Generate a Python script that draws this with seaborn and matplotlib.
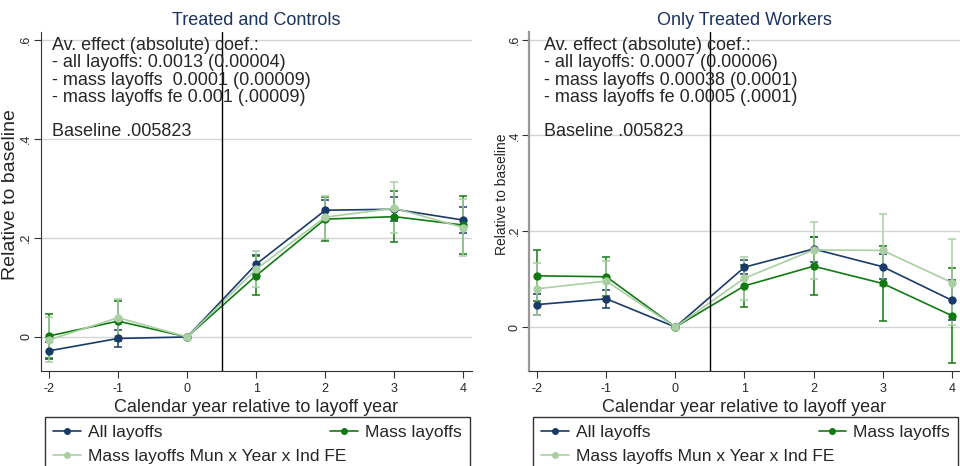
import numpy as np
import pandas as pd
import matplotlib
matplotlib.use("Agg")
import matplotlib.pyplot as plt
import seaborn as sns

# event time
years = [-2, -1, 0, 1, 2, 3, 4]
series_names = ["All layoffs", "Mass layoffs", "Mass layoffs Mun x Year x Ind FE"]

# Treated and Controls: point estimates and CI bounds
tc_all = [-0.028, -0.003, 0.0, 0.147, 0.256, 0.258, 0.236]
tc_all_lo = [-0.045, -0.020, 0.0, 0.128, 0.235, 0.234, 0.209]
tc_all_hi = [-0.011, 0.014, 0.0, 0.166, 0.277, 0.282, 0.263]
tc_mass = [0.002, 0.032, 0.0, 0.124, 0.238, 0.243, 0.226]
tc_mass_lo = [-0.042, -0.009, 0.0, 0.085, 0.194, 0.192, 0.167]
tc_mass_hi = [0.046, 0.073, 0.0, 0.163, 0.282, 0.294, 0.285]
tc_fe = [-0.006, 0.039, 0.0, 0.137, 0.242, 0.260, 0.221]
tc_fe_lo = [-0.051, 0.001, 0.0, 0.100, 0.197, 0.209, 0.163]
tc_fe_hi = [0.040, 0.077, 0.0, 0.174, 0.285, 0.312, 0.279]

# Only Treated Workers
ot_all = [0.047, 0.059, 0.0, 0.125, 0.163, 0.126, 0.056]
ot_all_lo = [0.025, 0.040, 0.0, 0.110, 0.135, 0.100, 0.014]
ot_all_hi = [0.070, 0.077, 0.0, 0.140, 0.189, 0.152, 0.098]
ot_mass = [0.107, 0.105, 0.0, 0.086, 0.127, 0.091, 0.024]
ot_mass_lo = [0.055, 0.064, 0.0, 0.042, 0.066, 0.013, -0.076]
ot_mass_hi = [0.160, 0.146, 0.0, 0.130, 0.188, 0.169, 0.123]
ot_fe = [0.080, 0.096, 0.0, 0.102, 0.161, 0.160, 0.093]
ot_fe_lo = [0.025, 0.054, 0.0, 0.057, 0.100, 0.085, 0.004]
ot_fe_hi = [0.134, 0.137, 0.0, 0.146, 0.219, 0.235, 0.183]

tc_note = ("Av. effect (absolute) coef.:\n- all layoffs: 0.0013 (0.00004)\n"
           "- mass layoffs  0.0001 (0.00009)\n- mass layoffs fe 0.001 (.00009)\n\n"
           "Baseline .005823")
ot_note = ("Av. effect (absolute) coef.:\n- all layoffs: 0.0007 (0.00006)\n"
           "- mass layoffs 0.00038 (0.0001)\n- mass layoffs fe 0.0005 (.0001)\n\n"
           "Baseline .005823")

colors = {"All layoffs": "#1a3a6a",
          "Mass layoffs": "#127a12",
          "Mass layoffs Mun x Year x Ind FE": "#a9cfa3"}


def make_df(est, lo, hi):
    rows = []
    for name, e, l, h in zip(series_names, est, lo, hi):
        for yr, v, a, b in zip(years, e, l, h):
            rows.append({"year": yr, "coef": v, "lo": a, "hi": b, "series": name})
    return pd.DataFrame(rows)


tc_df = make_df([tc_all, tc_mass, tc_fe], [tc_all_lo, tc_mass_lo, tc_fe_lo],
                [tc_all_hi, tc_mass_hi, tc_fe_hi])
ot_df = make_df([ot_all, ot_mass, ot_fe], [ot_all_lo, ot_mass_lo, ot_fe_lo],
                [ot_all_hi, ot_mass_hi, ot_fe_hi])

sns.set_style("white")
plt.rcParams["font.family"] = ["Liberation Sans", "DejaVu Sans"]
narrow = ["Liberation Sans Narrow", "Liberation Sans", "DejaVu Sans"]

fig = plt.figure(figsize=(9.6, 4.66), dpi=100)
ax1 = fig.add_axes([0.0424, 0.2039, 0.449, 0.7275])
ax2 = fig.add_axes([0.551, 0.2039, 0.449, 0.7275])


def draw_panel(ax, df, title, note, ymin, ylab_size, ylab_x, note_x, spine_col):
    for name in series_names:
        d = df[df["series"] == name]
        c = colors[name]
        ax.errorbar(d["year"], d["coef"], yerr=[d["coef"] - d["lo"], d["hi"] - d["coef"]],
                    fmt="none", ecolor=c, elinewidth=1.1, capsize=3, capthick=1.1, zorder=3)
    sns.lineplot(data=df, x="year", y="coef", hue="series", hue_order=series_names,
                 palette=colors, marker="o", markersize=6, markeredgewidth=0,
                 linewidth=1.2, ax=ax, legend=False, zorder=4)
    ax.axvline(0.5, color="black", lw=1, zorder=5)
    ax.set_xlim(-2.12, 4.12)
    ax.set_ylim(ymin, 0.616)
    ax.set_xticks(years)
    ax.set_xticklabels([str(y) for y in years], family=narrow, fontsize=9)
    ax.set_yticks([0, 0.2, 0.4, 0.6])
    ax.set_yticklabels(["0", ".2", ".4", ".6"], rotation=90, va="center", fontsize=9, family=narrow)
    ax.tick_params(axis="both", length=5, color="#333333", direction="out", left=True, bottom=True)
    ax.tick_params(axis="y", pad=1)
    ax.yaxis.grid(True, color="#d4d4d4", lw=1)
    ax.set_axisbelow(True)
    sns.despine(ax=ax)
    ax.spines["left"].set_color(spine_col)
    ax.spines["bottom"].set_color("#333333")
    ax.set_xlabel("Calendar year relative to layoff year", fontsize=13, family=narrow, labelpad=3)
    ax.set_ylabel("Relative to baseline", fontsize=ylab_size)
    ax.yaxis.set_label_coords(ylab_x, 0.52)
    ax.set_title(title, color="#1a3360", fontsize=13, pad=5)
    ax.text(note_x, 0.985, note, transform=ax.transAxes, ha="left", va="top",
            fontsize=13, linespacing=1.02, zorder=6)
    handles = []
    for name in [series_names[0], series_names[2], series_names[1]]:
        h, = ax.plot([], [], color=colors[name], marker="o", markersize=4, lw=1.2)
        handles.append((h, name))
    leg = ax.legend([h for h, _ in handles], [n for _, n in handles], ncol=2,
                    loc="upper left", bbox_to_anchor=(0.01, -0.145, 0.985, 0.01),
                    mode="expand", frameon=True, fancybox=False, edgecolor="black",
                    prop={"family": narrow, "size": 12.5}, handlelength=1.6,
                    handletextpad=0.4, borderpad=0.45, labelspacing=0.55, borderaxespad=0)
    leg.get_frame().set_linewidth(1)


draw_panel(ax1, tc_df, "Treated and Controls", tc_note, -0.0687, 14, -0.05, 0.026, "#333333")
draw_panel(ax2, ot_df, "Only Treated Workers", ot_note, -0.0917, 10, -0.046, 0.035, "#999999")
ax2.spines["left"].set_linewidth(1.6)

fig.savefig("out.png", dpi=100)
